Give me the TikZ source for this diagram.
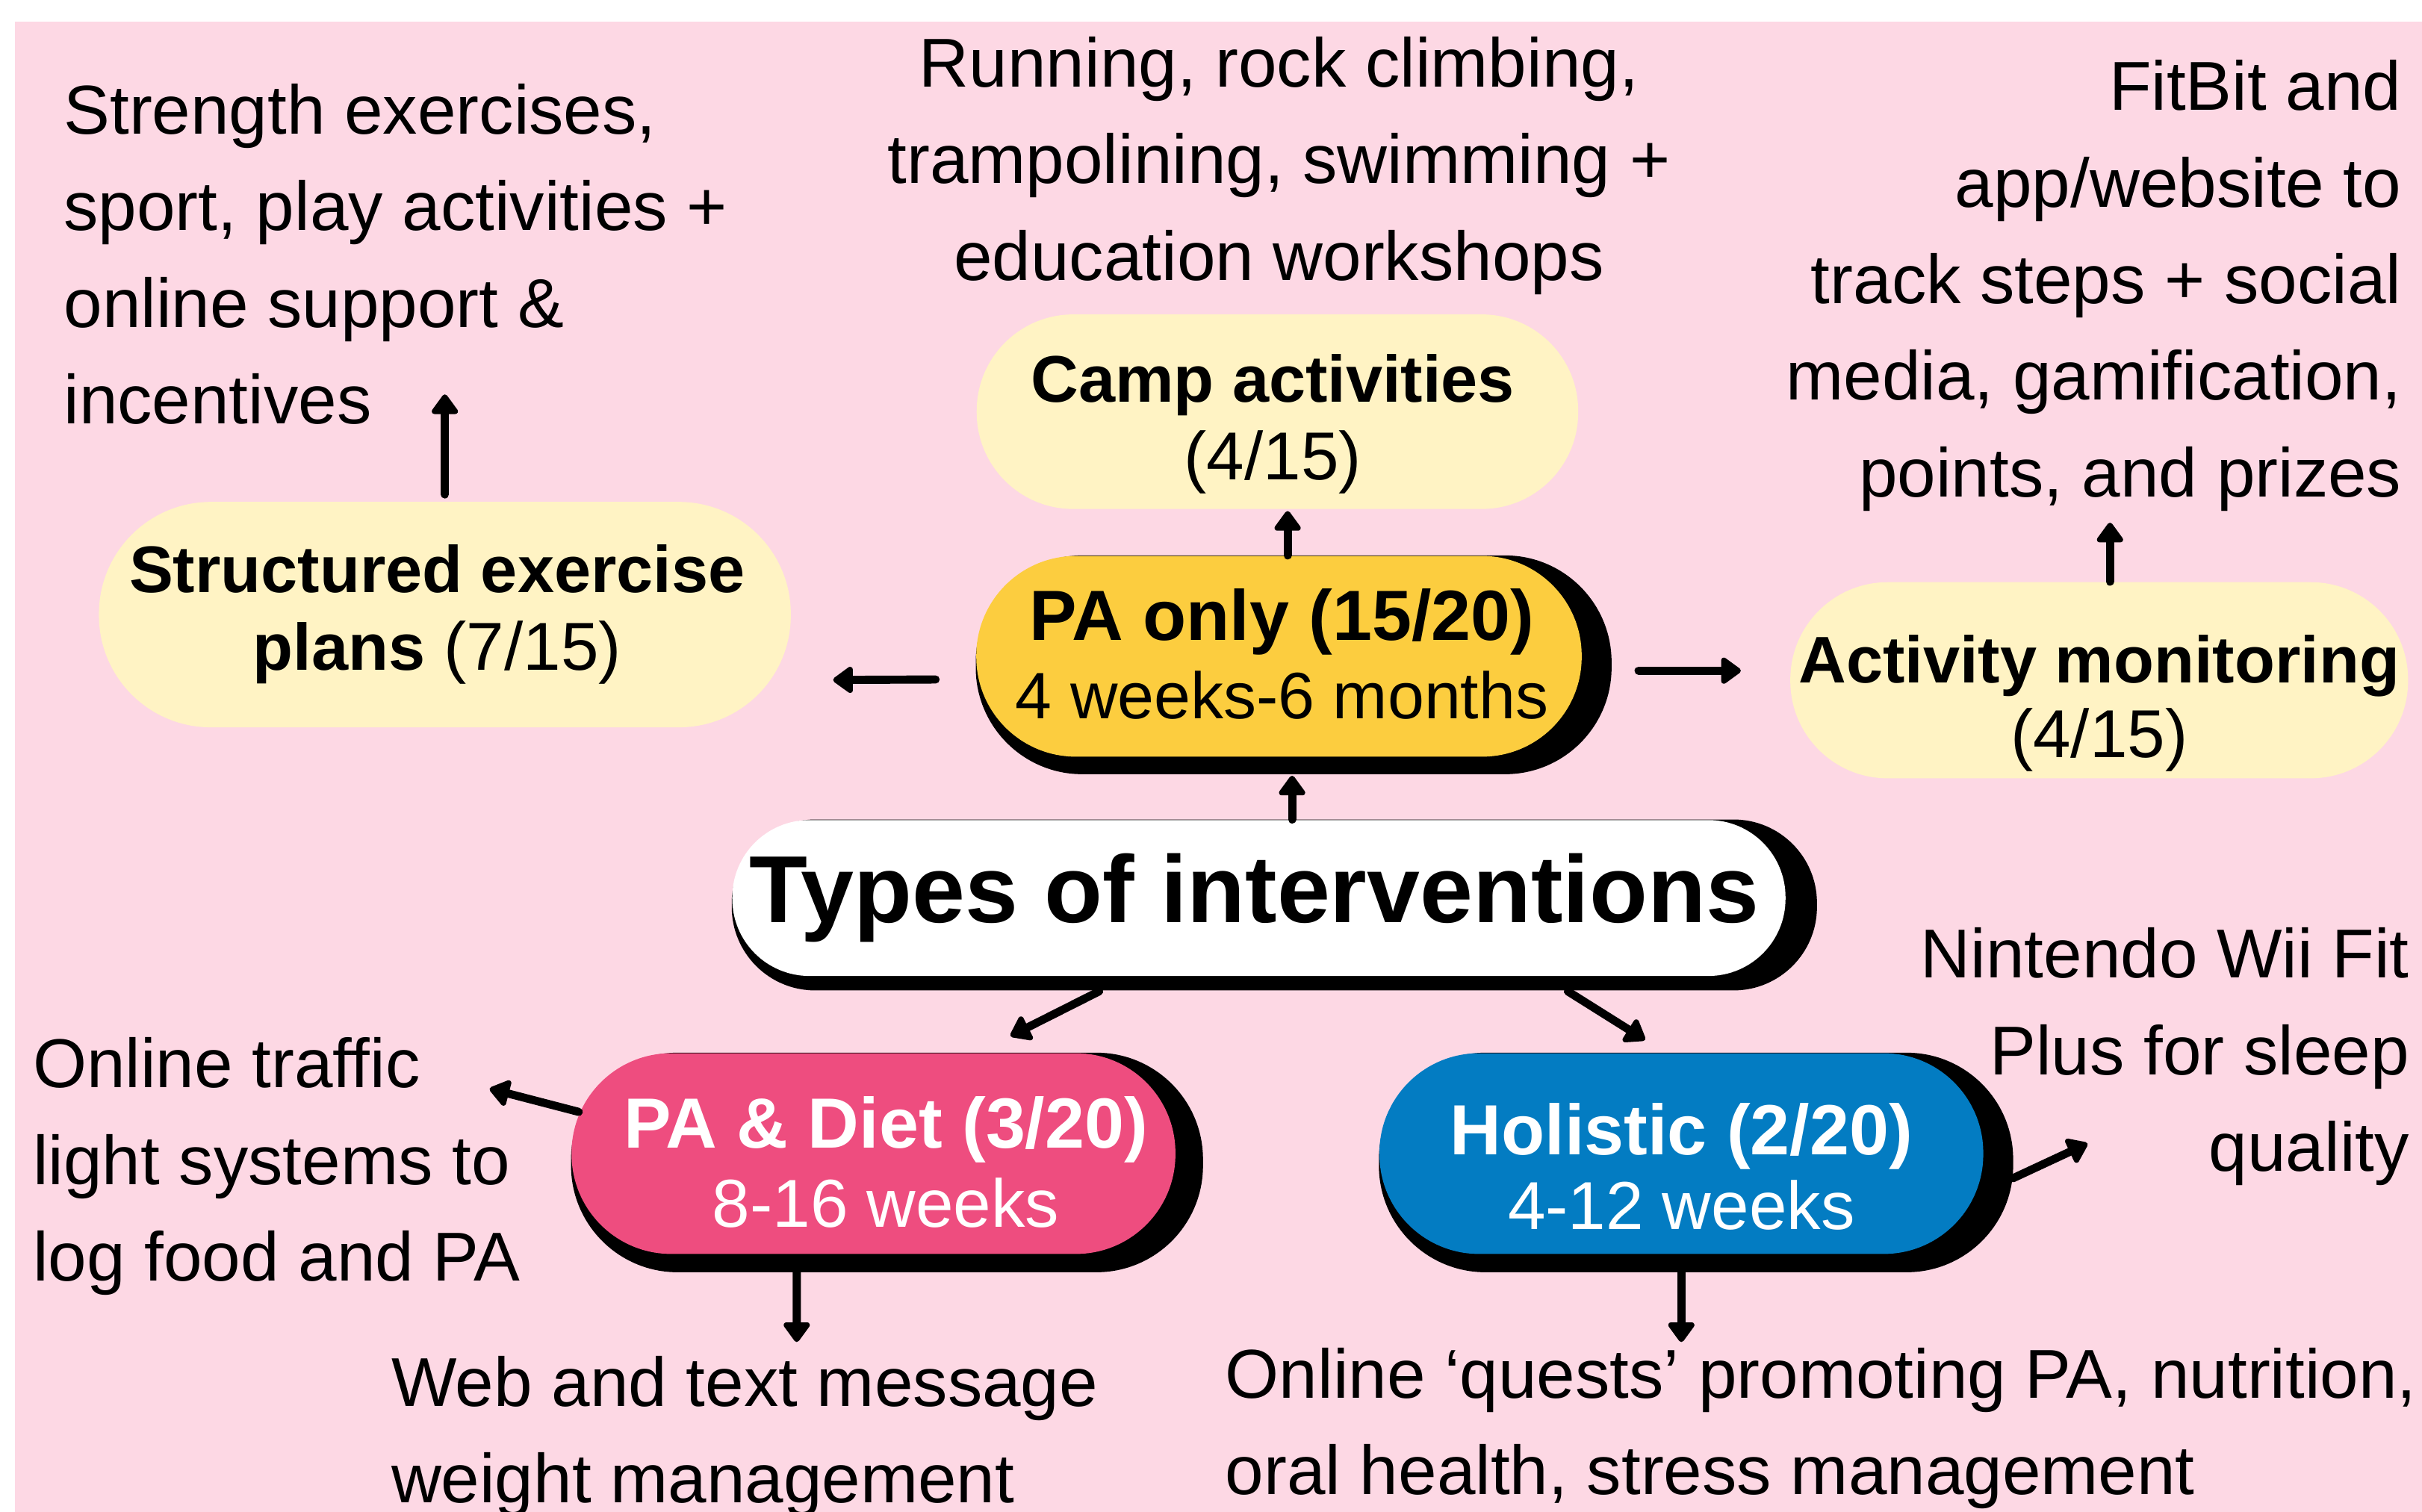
\documentclass[tikz,border=0pt]{standalone}
\usepackage{fontspec}
\setmainfont{Liberation Sans}
\usetikzlibrary{arrows.meta,backgrounds}

\definecolor{bgpink}{RGB}{253,216,228}
\definecolor{paleyellow}{RGB}{255,243,196}
\definecolor{gold}{RGB}{252,205,63}
\definecolor{dietpink}{RGB}{238,77,127}
\definecolor{holblue}{RGB}{3,124,194}

\begin{document}
\begin{tikzpicture}[x=0.02cm, y=-0.02cm,
  txt/.style={inner sep=0pt, font=\fontsize{25.5}{35.6}\selectfont},
  pill/.style={rectangle, inner sep=0pt},
  pilltext/.style={inner sep=0pt, align=center},
  arr/.style={->, >={Triangle[length=8pt, width=11pt, round]}, line width=3pt, line cap=round}
]
\useasboundingbox (0,0) rectangle (1568,979);

\def \bsmall {\fontsize{24.3}{28.5}\selectfont\bfseries}
\def \bbig {\fontsize{26.2}{29}\selectfont\bfseries}

% the types and what they did
\node[pill, fill=white, minimum width=13.64cm, minimum height=2.02cm, rounded corners=1cm] (types) at (815,581.5) {};
\node[pilltext, font=\fontsize{35.1}{40}\selectfont\bfseries] (typestext) at ([shift={(-3,0)}]types) {Types of interventions};

\node[pill, fill=gold, minimum width=7.84cm, minimum height=2.6cm, rounded corners=1.29cm] (paonly) at (828,425) {};
\node[pilltext, font=\fontsize{24.2}{29}\selectfont] (paonlytext) at ([shift={(2,-1.5)}]paonly)
  {{\bbig PA only (15/20)}\\4 weeks-6 months};
\node[pill, fill=dietpink, minimum width=7.82cm, minimum height=2.6cm, rounded corners=1.29cm] (padiet) at (565.5,747) {};
\node[pilltext, text=white, font=\fontsize{25}{29}\selectfont] (padiettext) at ([shift={(8,5.5)}]padiet)
  {{\bbig PA \& Diet (3/20)}\\8-16 weeks};
\node[pill, fill=holblue, minimum width=7.82cm, minimum height=2.6cm, rounded corners=1.29cm] (holistic) at (1088.5,747) {};
\node[pilltext, text=white, font=\fontsize{25}{27.5}\selectfont] (holistictext) at ([shift={(0,8.5)}]holistic)
  {{\bbig Holistic (2/20)}\\4-12 weeks};

\node[pill, fill=paleyellow, minimum width=7.79cm, minimum height=2.52cm, rounded corners=1.25cm] (camp) at (827,266.6) {};
\node[pilltext, font=\fontsize{25}{28.5}\selectfont] (camptext) at ([shift={(-3,7.9)}]camp)
  {{\bsmall Camp activities}\\(4/15)};
\node[pill, fill=paleyellow, minimum width=8.96cm, minimum height=2.92cm, rounded corners=1.45cm] (struct) at (288,398) {};
\node[pilltext, font=\fontsize{25}{28.5}\selectfont] (structtext) at ([shift={(-5,0)}]struct)
  {{\bsmall Structured exercise}\\{\bsmall plans} (7/15)};
\node[pill, fill=paleyellow, minimum width=8cm, minimum height=2.54cm, rounded corners=1.26cm] (activity) at (1359,440.5) {};
\node[pilltext, font=\fontsize{25}{27.5}\selectfont] (activitytext) at ([shift={(0,15)}]activity)
  {{\bsmall Activity monitoring}\\(4/15)};

% examples
\node[txt, anchor=north west, align=left] (strength) at (41,53.9)
  {Strength exercises,\\sport, play activities +\\online support \&\\incentives};
\node[txt, anchor=north, align=center] (running) at (828,23.5)
  {Running, rock climbing,\\trampolining, swimming +\\education workshops};
\node[txt, anchor=north east, align=right] (fitbit) at (1555,38.7)
  {FitBit and\\app/website to\\track steps + social\\media, gamification,\\points, and prizes};
\node[txt, anchor=north west, align=left] (traffic) at (21,671.5)
  {Online traffic\\light systems to\\log food and PA};
\node[txt, anchor=north west, align=left] (web) at (253,877.8)
  {Web and text message\\weight management};
\node[txt, anchor=north east, align=right] (wii) at (1560,600.4)
  {Nintendo Wii Fit\\Plus for sleep\\quality};
\node[txt, anchor=north west, align=left] (quests) at (793,872.3)
  {Online ‘quests’ promoting PA, nutrition,\\oral health, stress management};

% free arrow ends
\coordinate (strengthend) at (288,255.4);
\coordinate (leftend) at (539.4,440.3);
\coordinate (rightend) at (1127,434.3);
\coordinate (fitbitend) at (1366,338.5);
\coordinate (trafficend) at (317,705);
\coordinate (webend) at (515.8,869);
\coordinate (wiiend) at (1351.4,740.5);
\coordinate (questsend) at (1088.5,869);

\draw[arr, shorten <=0.09cm] (struct.north) -- (strengthend);
\draw[arr] ([shift={(-26,15)}]paonly.west) -- (leftend);
\draw[arr] ([shift={(5.6,0)}]paonly.north) -- ([shift={(6.6,1)}]camp.south);
\draw[arr] ([shift={(36.5,9.3)}]paonly.east) -- (rightend);
\draw[arr] ([shift={(7,0)}]activity.north) -- (fitbitend);
\draw[arr] ([shift={(21.5,0)}]types.north) -- ([shift={(8.5,12)}]paonly.south);
\draw[arr] ([shift={(-103.4,9.6)}]types.south) -- ([shift={(88.7,-10.8)}]padiet.north);
\draw[arr] ([shift={(200,9.6)}]types.south) -- ([shift={(-23.5,-8.3)}]holistic.north);
\draw[arr] ([shift={(5,-27)}]padiet.west) -- (trafficend);
\draw[arr] ([shift={(-49.7,11.5)}]padiet.south) -- (webend);
\draw[arr] ([shift={(18.8,16)}]holistic.east) -- (wiiend);
\draw[arr] ([shift={(0,11.5)}]holistic.south) -- (questsend);

\begin{scope}[on background layer]
  \fill[bgpink] (9.5,13.9) rectangle (1568,979);
  % black shadows
  \fill[black, rounded corners=1.38cm] (paonly.north west) rectangle ([shift={(19,11)}]paonly.south east);
  \fill[black, rounded corners=1.08cm] (types.north west) rectangle ([shift={(20,9)}]types.south east);
  \fill[black, rounded corners=1.38cm] (padiet.north west) rectangle ([shift={(17.5,11.5)}]padiet.south east);
  \fill[black, rounded corners=1.38cm] (holistic.north west) rectangle ([shift={(19,11.5)}]holistic.south east);
\end{scope}
\end{tikzpicture}
\end{document}
